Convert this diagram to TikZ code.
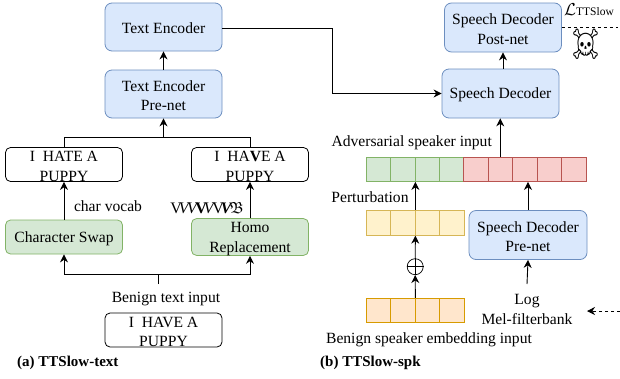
\documentclass[tikz,border=0pt]{standalone}
\usepackage{fontspec}
\usepackage{amssymb}
\setmainfont{Liberation Serif}
\newfontfamily\emojifont{Noto Emoji}
\usetikzlibrary{arrows.meta}
\definecolor{blueF}{HTML}{DAE8FC}
\definecolor{blueD}{HTML}{6C8EBF}
\definecolor{greenF}{HTML}{D5E8D4}
\definecolor{greenD}{HTML}{82B366}
\definecolor{redF}{HTML}{F8CECC}
\definecolor{redD}{HTML}{B85450}
\definecolor{yellowF}{HTML}{FFF2CC}
\definecolor{yellowD}{HTML}{D6B656}
\definecolor{orangeF}{HTML}{FFE6CC}
\definecolor{orangeD}{HTML}{D79B00}
\newcommand{\vkern}{\kern-3pt}
\newcommand{\up}{\rule{0pt}{14pt}}
\tikzset{
  lbl/.style={font=\fontsize{15.6}{19.5}\selectfont,align=center,inner sep=0pt},
  box/.style={lbl,draw,rounded corners=5pt,line width=0.8pt,minimum width=117pt,minimum height=34pt},
  bluebox/.style={box,draw=blueD,fill=blueF,rounded corners=7pt,minimum height=48pt},
  greenbox/.style={box,draw=greenD,fill=greenF},
  cell/.style={draw,line width=0.8pt,minimum width=24.5pt,minimum height=24.5pt,inner sep=0pt},
  arr/.style={-{Stealth[length=8pt,width=8pt]},line width=0.9pt},
  caption/.style={font=\fontsize{15}{17}\selectfont\bfseries,anchor=west,inner sep=0pt}
}
\begin{document}
\begin{tikzpicture}[x=1pt,y=-1pt]
  \useasboundingbox (0,0) rectangle (620,378);
  % left part
  \node [bluebox] (textenc) at (163.5,27) {\up Text Encoder};
  \node [bluebox] (textpre) at (163.5,94) {\up Text Encoder\\Pre-net};
  \node [box] (hate) at (64,164.5) {\up I\ \ HATE A\\PUPPY};
  \node [box] (have) at (250,164.5) {\up I\ \ HA\textbf{V}E A\\PUPPY};
  \node [greenbox] (swap) at (64,237) {\up Character Swap};
  \node [greenbox] (homo) at (250,237) {\up Homo\\Replacement};
  \node [box] (input) at (163.5,330) {\up I\ \ HAVE A\\PUPPY};
  \node [lbl] (inputlbl) at (166,299) {Benign text input};
  \node [lbl] (vocab) at (108,206) {char vocab};
  \node [lbl,font=\fontsize{16}{18}\selectfont] (glyphs) at (207,208) {V\vkern\textit{V}\vkern\textit{V}\vkern\textbf{V}\vkern\textit{V}\vkern V\vkern\textbf{\textit{V}}\vkern$\mathfrak{B}$};
  \node [caption] (capa) at (17,363) {(a) TTSlow-text};
  \coordinate (join) at (163.5,137);
  \coordinate (split) at (158,274.5);
  \coordinate (stub) at (158,284);
  \draw [line width=0.9pt] (hate.north) |- (join);
  \draw [line width=0.9pt] (have.north) |- (join);
  \draw [arr] (join) -- (textpre.south);
  \draw [arr] (textpre.north) -- (textenc.south);
  \draw [arr] (swap.north) -- (hate.south);
  \draw [arr] (homo.north) -- (have.south);
  \draw [line width=0.9pt] (stub) -- (split);
  \draw [arr] (split) -| (swap.south);
  \draw [arr] (split) -| (homo.south);
  % right part
  \node [bluebox,minimum height=49pt] (post) at (503,27.5) {\up Speech Decoder\\Post-net};
  \node [bluebox,minimum height=49pt] (dec) at (500.5,93.5) {\up Speech Decoder};
  \node [bluebox,minimum height=49pt,minimum width=118pt] (decpre) at (528,235) {\up Speech Decoder\\Pre-net};
  \foreach \i in {0,...,3} {
    \node [cell,draw=greenD,fill=greenF] (green\i) at ({378.2+24.5*\i},169.3) {};
    \node [cell,draw=yellowD,fill=yellowF] (yellow\i) at ({378.2+24.5*\i},223) {};
    \node [cell,draw=orangeD,fill=orangeF] (orange\i) at ({378.2+24.5*\i},310.5) {};
  }
  \foreach \i in {0,...,4}
    \node [cell,draw=redD,fill=redF] (red\i) at ({475.7+24.5*\i},169.3) {};
  \node [draw,circle,inner sep=0pt,minimum size=16pt,line width=0.7pt] (plus) at (415.2,266.7) {};
  \draw [line width=0.7pt] (plus.north) -- (plus.south) (plus.west) -- (plus.east);
  \node [lbl] (advlbl) at (411.7,143) {Adversarial speaker input};
  \node [lbl] (pertlbl) at (370,197) {Perturbation};
  \node [lbl] (benignlbl) at (429,340) {Benign speaker embedding input};
  \node [lbl] (mel) at (527,309.5) {Log\\Mel-filterbank};
  \node [caption] (capb) at (320,363) {(b) TTSlow-spk};
  \node [inner sep=0pt,anchor=west,font=\fontsize{11.5}{13}\selectfont] (loss) at (564,10) {\fontsize{17}{19}\selectfont$\mathcal{L}$\fontsize{11.5}{13}\selectfont TTSlow};
  \node [inner sep=0pt,font=\emojifont\fontsize{24}{26}\selectfont] (skull) at (585.5,44) {\scalebox{1}[1.25]{☠}};
  \coordinate (lossend) at (618,27.5);
  \coordinate (dashstart) at (620,311);
  \coordinate (dashend) at (587,311);
  \coordinate (bend) at (332,28);
  \draw [line width=0.9pt] (textenc.east |- bend) -- (bend);
  \draw [arr] (bend) |- (dec.west);
  \draw [arr] (dec.north -| post.south) -- (post.south);
  \draw [arr] (red1.north) -- (dec.south -| red1.north);
  \draw [arr] (yellow1.north east) -- (green1.south east);
  \draw [arr] (decpre.north) -- (decpre.north |- red2.south);
  \draw [arr] (plus.north) -- (yellow1.south east);
  \draw [arr] (orange1.north east) -- (plus.south);
  \draw [arr] (mel.north |- 0,284) -- (decpre.south);
  \draw [dashed,line width=0.8pt] (post.east) -- (lossend);
  \draw [arr,dashed] (dashstart) -- (dashend);
\end{tikzpicture}
\end{document}
